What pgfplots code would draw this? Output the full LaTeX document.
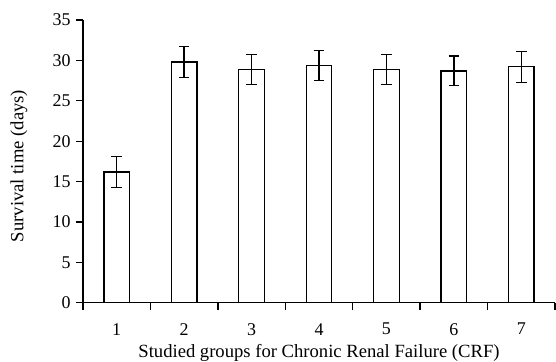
\documentclass[border=0pt]{standalone}
\usepackage{fontspec}
\setmainfont{Liberation Serif}
\usepackage{pgfplots}
\pgfplotsset{compat=1.18}
\begin{document}
\begin{tikzpicture}
\useasboundingbox (-83bp,-59.3bp) rectangle (473bp,302.7bp);
\begin{axis}[
  at={(0,0)}, anchor=origin,
  scale only axis,
  width=472bp, height=282.7bp,
  xmin=0, xmax=7, ymin=0, ymax=35,
  axis x line*=bottom, axis y line*=left,
  axis line style={-, line width=1.3bp},
  tick style={line width=1.3bp, black},
  tick align=outside, tick pos=left,
  major tick length=7bp,
  xtick={0,...,7}, xticklabels={1,2,3,4,5,6,7},
  x tick label as interval,
  ytick={0,5,...,35},
  /pgf/number format/assume math mode=true,
  font=\fontsize{18}{21}\selectfont,
  xticklabel style={yshift=-10bp},
  yticklabel style={xshift=-2bp},
  xlabel={Studied groups for Chronic Renal Failure (CRF)},
  ylabel={Survival time (days)},
  every axis x label/.style={at={(axis description cs:0.5,0)}, anchor=base, yshift=-54.5bp, font=\fontsize{18.7}{22}\selectfont},
  every axis y label/.style={at={(axis description cs:-0.1356,0.4835)}, anchor=center, rotate=90, font=\fontsize{18.7}{22}\selectfont},
  ybar, bar width=0.38,
  clip=false,
]
\addplot[draw=black, fill=white, line width=1.3bp,
  error bars/.cd, y dir=both, y explicit,
  error bar style={line width=1.3bp, black},
  error mark options={rotate=90, mark size=5.3bp, line width=1.3bp, black}]
  coordinates {
  (0.5,16.2) +- (0,1.9)
  (1.5,29.8) +- (0,1.9)
  (2.5,28.9) +- (0,1.85)
  (3.5,29.4) +- (0,1.85)
  (4.5,28.9) +- (0,1.85)
  (5.5,28.7) +- (0,1.85)
  (6.5,29.2) +- (0,1.9)
  };
\end{axis}
\end{tikzpicture}
\end{document}
